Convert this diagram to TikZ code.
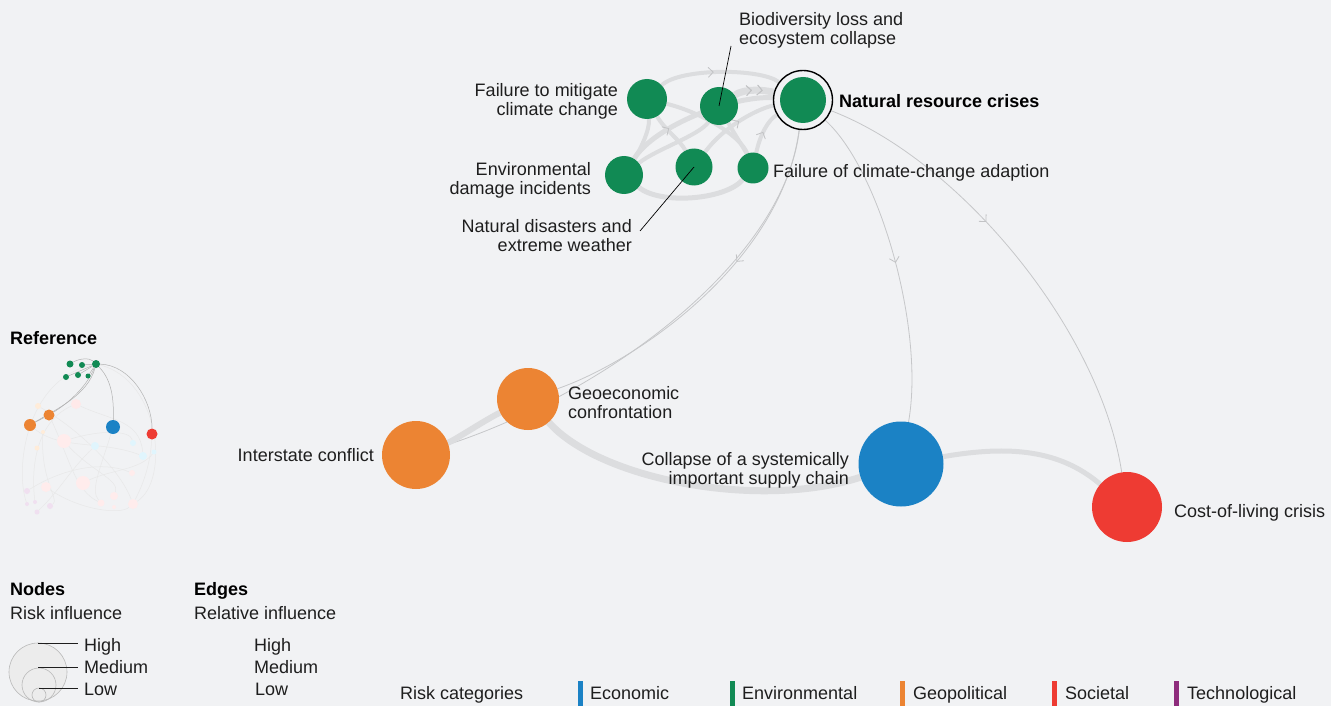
\documentclass[tikz,border=0pt]{standalone}
\usepackage{fontspec}
\setmainfont{Liberation Sans}
\usetikzlibrary{arrows.meta,decorations.markings}
\definecolor{bgc}{HTML}{F1F2F4}
\definecolor{envgreen}{HTML}{118A54}
\definecolor{econblue}{HTML}{1B82C5}
\definecolor{geoorange}{HTML}{EC8433}
\definecolor{socred}{HTML}{EE3B33}
\definecolor{techpurple}{HTML}{8E2C7C}
\definecolor{bandgray}{HTML}{DCDDDF}
\definecolor{linegray}{HTML}{C6C7C9}
\definecolor{chevgray}{HTML}{C2C3C5}
\definecolor{txt}{HTML}{1E1E1E}
\pgfdeclarelayer{bg}
\pgfdeclarelayer{edges}
\pgfsetlayers{bg,edges,main}
\tikzset{
  risk/.style={circle, fill=#1, inner sep=0pt},
  lbl/.style={text=txt, font=\fontsize{18}{19}\selectfont, inner sep=0pt},
  lblb/.style={text=black, font=\fontsize{18}{19}\selectfont\bfseries, inner sep=0pt},
  one/.style={text height=17pt, text depth=4pt},
  band/.style={draw=bandgray, line width=#1},
  thinedge/.style={draw=linegray, line width=0.8pt},
  midarrow/.style={postaction={decorate}, decoration={markings,
     mark=at position #1 with {\arrow[draw=chevgray,line width=0.8pt]{Straight Barb[length=5pt,width=10pt]}}}},
  leader/.style={draw=black, line width=0.7pt},
  mini/.style={circle, fill=#1, inner sep=0pt},
  miniedge/.style={draw=gray!60, line width=0.5pt},
  faintedge/.style={draw=gray!18, line width=0.5pt},
}
\begin{document}
\begin{tikzpicture}[x=1pt,y=-1pt]
\begin{pgfonlayer}{bg}
\fill[bgc] (0,0) rectangle (1331,706);
\end{pgfonlayer}
\useasboundingbox (0,0) rectangle (1331,706);

% ---------- main nodes ----------
\node[risk=envgreen, minimum size=40pt] (ftm) at (647,99) {};
\node[risk=envgreen, minimum size=38pt] (bio) at (719,106) {};
\node[risk=envgreen, minimum size=46pt] (nrc) at (803,100) {};
\node[circle, draw=black, line width=1.4pt, minimum size=59pt, inner sep=0pt] (nrcring) at (803,100) {};
\node[risk=envgreen, minimum size=38pt] (env) at (624,175) {};
\node[risk=envgreen, minimum size=37pt] (nd) at (694,167) {};
\node[risk=envgreen, minimum size=31pt] (fca) at (753,168) {};
\node[risk=geoorange, minimum size=62pt] (geo) at (528,399) {};
\node[risk=geoorange, minimum size=68pt] (isc) at (416,455) {};
\node[risk=econblue, minimum size=85pt] (col) at (901,464) {};
\node[risk=socred, minimum size=70pt] (cost) at (1127,507) {};

% ---------- labels ----------
\node[lbl, anchor=west, align=left] (bioL) at (739,30) {Biodiversity loss and\\ecosystem collapse};
\coordinate (bioT) at (731,46);
\node[lbl, anchor=east, align=right] (ftmL) at (618,101.5) {Failure to mitigate\\climate change};
\node[lblb, one, anchor=west] (nrcL) at (839,101) {Natural resource crises};
\node[lbl, anchor=east, align=right] (envL) at (591,180.5) {Environmental\\damage incidents};
\node[lbl, one, anchor=west] (fcaL) at (773,171) {Failure of climate-change adaption};
\node[lbl, anchor=east, align=right] (ndL) at (632,236) {Natural disasters and\\extreme weather};
\coordinate (ndT) at (640,231);
\node[lbl, anchor=west, align=left] (geoL) at (568,403) {Geoeconomic\\confrontation};
\node[lbl, one, anchor=east] (iscL) at (374,455) {Interstate conflict};
\node[lbl, anchor=east, align=right] (colL) at (849,470) {Collapse of a systemically\\important supply chain};
\node[lbl, one, anchor=west] (costL) at (1174,511) {Cost-of-living crisis};

\draw[leader] (bio.center) -- (bioT);
\draw[leader] (nd.center) -- (ndT);

% ---------- edges ----------
\begin{pgfonlayer}{edges}
% bands among the environmental cluster
\draw[band=4pt, midarrow=0.45] (ftm) .. controls (680,68) and (760,68) .. (nrcring);
\draw[band=4pt] (ftm) .. controls (650,130) and (640,150) .. (env);
\draw[band=4pt] (ftm) .. controls (700,112) and (740,135) .. (fca);
\draw[band=4pt] (ftm) .. controls (665,130) and (680,140) .. (nd);
\draw[band=4pt] (bio) .. controls (700,135) and (655,150) .. (env);
\draw[band=4pt] (bio) .. controls (735,135) and (745,150) .. (fca);
\draw[band=5pt] (env) .. controls (660,205) and (725,200) .. (fca);
\draw[band=5pt, midarrow=0.3] (env) .. controls (655,125) and (735,95) .. (nrcring);
\draw[band=4pt, midarrow=0.55] (nd) .. controls (725,125) and (760,108) .. (nrcring);
\draw[band=4pt, midarrow=0.5] (fca) .. controls (760,135) and (768,120) .. (nrcring);
\draw[band=7pt, midarrow=0.45, midarrow=0.72] (bio) .. controls (745,88) and (765,90) .. (nrcring);
% thin edges from natural resource crises
\draw[thinedge, midarrow=0.5] (nrcring) .. controls (880,170) and (925,330) .. (col);
\draw[thinedge, midarrow=0.4] (nrcring) .. controls (960,160) and (1100,330) .. (cost);
\draw[thinedge, midarrow=0.4] (nrcring) .. controls (782,260) and (640,360) .. (geo);
\draw[thinedge, midarrow=0.87] (nrcring) .. controls (783,265) and (600,395) .. (isc);
% lower bands
\draw[band=6pt] (geo) .. controls (485,420) and (455,440) .. (isc);
\draw[band=7pt] (geo) .. controls (600,480) and (760,510) .. (col);
\draw[band=5pt] (col) .. controls (1010,445) and (1060,450) .. (cost);
\end{pgfonlayer}

% ---------- reference mini graph ----------
\node[lblb, one, anchor=west] (refT) at (10,338) {Reference};
\node[mini=pink!35, minimum size=10pt] (m1) at (76,404) {};
\node[mini=orange!15, minimum size=6pt] (m2) at (38,406) {};
\node[mini=pink!30, minimum size=14pt] (m3) at (64,441) {};
\node[mini=cyan!12, minimum size=8pt] (m4) at (95,446) {};
\node[mini=cyan!12, minimum size=6pt] (m5) at (133,443) {};
\node[mini=cyan!12, minimum size=8pt] (m6) at (143,456) {};
\node[mini=cyan!12, minimum size=5pt] (m7) at (154,452) {};
\node[mini=orange!15, minimum size=5pt] (m8) at (37,448) {};
\node[mini=pink!30, minimum size=6pt] (m9) at (132,473) {};
\node[mini=pink!30, minimum size=14pt] (m10) at (83,483) {};
\node[mini=pink!30, minimum size=10pt] (m11) at (46,487) {};
\node[mini=violet!12, minimum size=6pt] (m12) at (27,491) {};
\node[mini=pink!30, minimum size=8pt] (m13) at (114,496) {};
\node[mini=pink!30, minimum size=7pt] (m14) at (101,503) {};
\node[mini=pink!30, minimum size=10pt] (m15) at (133,504) {};
\node[mini=violet!12, minimum size=6pt] (m16) at (50,506) {};
\node[mini=violet!12, minimum size=4pt] (m17) at (35,502) {};
\node[mini=violet!12, minimum size=4pt] (m18) at (27,504) {};
\node[mini=violet!12, minimum size=5pt] (m19) at (37,512) {};
\node[mini=pink!30, minimum size=4pt] (m20) at (114,507) {};
\node[mini=orange!15, minimum size=4pt] (m21) at (43,432) {};
\node[mini=envgreen, minimum size=7pt] (g1) at (70,364) {};
\node[mini=envgreen, minimum size=6pt] (g2) at (82,365) {};
\node[mini=envgreen, minimum size=8pt] (g3) at (96,364) {};
\node[mini=envgreen, minimum size=6pt] (g4) at (66,377) {};
\node[mini=envgreen, minimum size=6pt] (g5) at (78,375) {};
\node[mini=envgreen, minimum size=5pt] (g6) at (88,376) {};
\node[mini=geoorange, minimum size=11pt] (o1) at (49,415) {};
\node[mini=geoorange, minimum size=12pt] (o2) at (30,425) {};
\node[mini=econblue, minimum size=14pt] (b1) at (113,427) {};
\node[mini=socred, minimum size=11pt] (r1) at (152,434) {};
\begin{pgfonlayer}{edges}
\draw[faintedge] (g3) .. controls (25,380) and (15,470) .. (m18);
\draw[faintedge] (g3) .. controls (160,380) and (170,480) .. (m15);
\draw[faintedge] (o2) .. controls (60,450) and (100,440) .. (m6);
\draw[faintedge] (m2) .. controls (80,430) and (120,470) .. (m15);
\draw[faintedge] (m3) .. controls (90,470) and (120,480) .. (m13);
\draw[faintedge] (m1) .. controls (110,420) and (140,420) .. (m6);
\draw[faintedge] (o1) .. controls (70,460) and (75,490) .. (m14);
\draw[faintedge] (m12) .. controls (60,470) and (100,460) .. (m9);
\draw[faintedge] (m10) .. controls (110,470) and (140,470) .. (m7);
\draw[faintedge] (m21) .. controls (40,480) and (60,500) .. (m16);
\draw[faintedge] (b1) .. controls (100,470) and (90,490) .. (m14);
\draw[faintedge] (r1) .. controls (150,470) and (140,490) .. (m15);
\draw[faintedge] (m4) .. controls (70,470) and (60,490) .. (m19);
\draw[faintedge] (m1) .. controls (40,420) and (30,460) .. (m17);
\draw[faintedge] (m3) .. controls (100,430) and (130,430) .. (m5);
\draw[faintedge] (m11) .. controls (80,510) and (120,515) .. (m15);
\draw[miniedge] (g3) .. controls (85,390) and (65,405) .. (o1);
\draw[miniedge] (g3) .. controls (88,395) and (55,410) .. (o2);
\draw[miniedge] (g3) .. controls (112,380) and (114,400) .. (b1);
\draw[miniedge] (g3) .. controls (130,365) and (152,400) .. (r1);
\draw[miniedge] (g1) .. controls (80,358) and (90,358) .. (g3);
\draw[miniedge] (g2) -- (g3);
\draw[miniedge] (g4) -- (g3);
\draw[miniedge] (g5) -- (g3);
\draw[miniedge] (g6) -- (g3);
\draw[miniedge] (o1) -- (o2);
\end{pgfonlayer}

% ---------- node legend ----------
\node[lblb, one, anchor=west] (nodesT) at (10,589) {Nodes};
\node[lbl, one, anchor=west] (nodesS) at (10,613) {Risk influence};
\node[circle, draw=gray!55, fill=gray!15, line width=0.6pt, minimum size=58pt, inner sep=0pt] (lgH) at (38,672) {};
\node[circle, draw=gray!55, line width=0.6pt, minimum size=34pt, inner sep=0pt] (lgM) at (39,685) {};
\node[circle, draw=gray!55, line width=0.6pt, minimum size=14pt, inner sep=0pt] (lgL) at (39,695) {};
\node[lbl, one, anchor=west] (lgHt) at (84,645) {High};
\node[lbl, one, anchor=west] (lgMt) at (84,667) {Medium};
\node[lbl, one, anchor=west] (lgLt) at (84,689) {Low};
\coordinate (lgHe) at (78,643);
\coordinate (lgMe) at (78,667);
\coordinate (lgLe) at (78,688);
\draw[draw=txt, line width=0.7pt] (38,643) -- (lgHe);
\draw[draw=txt, line width=0.7pt] (38,667) -- (lgMe);
\draw[draw=txt, line width=0.7pt] (39,688) -- (lgLe);

% ---------- edge legend ----------
\node[lblb, one, anchor=west] (edgesT) at (194,589) {Edges};
\node[lbl, one, anchor=west] (edgesS) at (194,613) {Relative influence};
\node[lbl, one, anchor=west] (elH) at (254,645) {High};
\node[lbl, one, anchor=west] (elM) at (254,667) {Medium};
\node[lbl, one, anchor=west] (elL) at (255,689) {Low};

% ---------- categories ----------
\node[lbl, one, anchor=west] (catT) at (400,693) {Risk categories};
\fill[econblue] (578,681) rectangle (583,706);
\node[lbl, one, anchor=west] (catE) at (590,693) {Economic};
\fill[envgreen] (730,681) rectangle (735,706);
\node[lbl, one, anchor=west] (catN) at (742,693) {Environmental};
\fill[geoorange] (900,681) rectangle (905,706);
\node[lbl, one, anchor=west] (catG) at (913,693) {Geopolitical};
\fill[socred] (1052,681) rectangle (1057,706);
\node[lbl, one, anchor=west] (catS) at (1065,693) {Societal};
\fill[techpurple] (1174,681) rectangle (1179,706);
\node[lbl, one, anchor=west] (catT2) at (1187,693) {Technological};
\end{tikzpicture}
\end{document}
